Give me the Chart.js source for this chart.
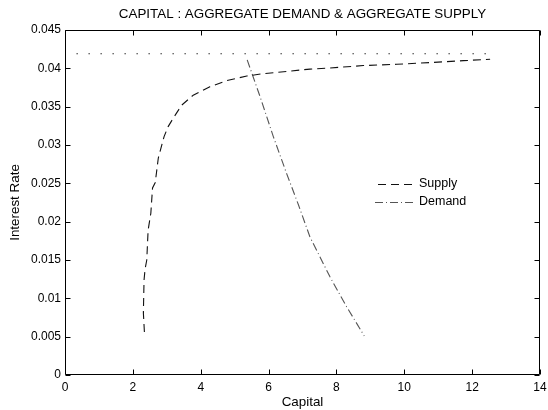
<!DOCTYPE html>
<html>
<head>
<meta charset="utf-8">
<script src="https://cdn.jsdelivr.net/npm/chart.js@4.4.1/dist/chart.umd.min.js"></script>
<style>
  html, body { margin: 0; padding: 0; background: #fff; }
  #wrap { width: 548px; height: 410px; }
</style>
</head>
<body>
<div id="wrap"><canvas id="c" width="548" height="410"></canvas></div>
<script>
// ---- data ----
const chartTitle = 'CAPITAL : AGGREGATE DEMAND & AGGREGATE SUPPLY';
const xAxisTitle = 'Capital';
const yAxisTitle = 'Interest Rate';

const supplyCapital = [2.34, 2.31, 2.33, 2.36, 2.41, 2.45, 2.53, 2.58, 2.66, 2.75, 2.92, 3.04, 3.19, 3.44, 3.78, 4.27, 4.77, 5.36, 5.84, 6.53, 7.22, 7.81, 8.79, 9.78, 10.76, 11.74, 12.53];
const supplyRate    = [0.0056, 0.0081, 0.0124, 0.0138, 0.0150, 0.0189, 0.0211, 0.0244, 0.0251, 0.0283, 0.0311, 0.0324, 0.0335, 0.0352, 0.0365, 0.0376, 0.0384, 0.0390, 0.0393, 0.0396, 0.0399, 0.04005, 0.04036, 0.04053, 0.04075, 0.0410, 0.04118];

const demandCapital = [5.37, 5.75, 6.14, 6.53, 6.88, 7.22, 7.81, 8.30, 8.82];
const demandRate    = [0.0411, 0.0363, 0.0311, 0.0263, 0.0222, 0.0180, 0.0128, 0.0089, 0.0051];

const limitCapital = [0.34, 12.53];
const limitRate    = [0.0419, 0.0419];

const xTickLabels = ['0', '2', '4', '6', '8', '10', '12', '14'];
const yTickLabels = ['0', '0.005', '0.01', '0.015', '0.02', '0.025', '0.03', '0.035', '0.04', '0.045'];

const seriesNames = ['Supply', 'Demand'];

function pts(xs, ys) { return xs.map((x, i) => ({ x: x, y: ys[i] })); }

const FONT = 'Liberation Sans, Arial, Helvetica, sans-serif';

// frame + inward tick marks + legend (MATLAB style)
const framePlugin = {
  id: 'frame',
  afterDraw(chart) {
    const ctx = chart.ctx;
    const a = chart.chartArea;
    const xs = chart.scales.x, ys = chart.scales.y;
    ctx.save();
    ctx.strokeStyle = '#000';
    ctx.lineWidth = 1;
    const L = Math.round(a.left) + 0.5, R = Math.round(a.right) - 0.5;
    const T = Math.round(a.top) + 0.5, B = Math.round(a.bottom) - 0.5;
    ctx.beginPath();
    ctx.rect(L, T, R - L, B - T);
    ctx.stroke();
    const tl = 5;
    ctx.beginPath();
    xs.ticks.forEach(t => {
      const px = Math.round(xs.getPixelForValue(t.value)) + 0.5;
      ctx.moveTo(px, B); ctx.lineTo(px, B - tl);
      ctx.moveTo(px, T); ctx.lineTo(px, T + tl);
    });
    ys.ticks.forEach(t => {
      const py = Math.round(ys.getPixelForValue(t.value)) + 0.5;
      ctx.moveTo(L, py); ctx.lineTo(L + tl, py);
      ctx.moveTo(R, py); ctx.lineTo(R - tl, py);
    });
    ctx.stroke();

    // legend
    const items = [
      { ds: chart.data.datasets[0], x0: 378, x1: 413, y: 184 },
      { ds: chart.data.datasets[1], x0: 375, x1: 415, y: 202 }
    ];
    ctx.font = '12.5px ' + FONT;
    ctx.textBaseline = 'middle';
    ctx.textAlign = 'left';
    items.forEach(it => {
      ctx.beginPath();
      ctx.setLineDash(it.ds.borderDash);
      ctx.strokeStyle = it.ds.borderColor;
      ctx.lineWidth = 1;
      ctx.moveTo(it.x0, it.y + 0.5);
      ctx.lineTo(it.x1, it.y + 0.5);
      ctx.stroke();
      ctx.setLineDash([]);
      ctx.fillStyle = '#000';
      ctx.fillText(it.ds.label, 419, it.y);
    });
    ctx.restore();
  }
};

new Chart(document.getElementById('c'), {
  type: 'line',
  data: {
    datasets: [
      {
        label: seriesNames[0],
        data: pts(supplyCapital, supplyRate),
        borderColor: '#111',
        borderWidth: 1.1,
        borderDash: [8, 5],
        pointRadius: 0,
        fill: false,
        tension: 0
      },
      {
        label: seriesNames[1],
        data: pts(demandCapital, demandRate),
        borderColor: '#555',
        borderWidth: 1.1,
        borderDash: [8, 3, 1, 3],
        pointRadius: 0,
        fill: false,
        tension: 0
      },
      {
        label: 'limit',
        data: pts(limitCapital, limitRate),
        borderColor: '#000',
        borderWidth: 1.2,
        borderDash: [1.2, 10.8],
        pointRadius: 0,
        fill: false,
        tension: 0
      }
    ]
  },
  options: {
    responsive: false,
    animation: false,
    devicePixelRatio: 1,
    layout: { padding: { left: 0, right: 0, top: 0, bottom: 0 } },
    plugins: {
      legend: { display: false },
      tooltip: { enabled: false },
      title: {
        display: true,
        text: chartTitle,
        fullSize: false,
        color: '#000',
        font: { family: FONT, size: 13.4, weight: 'normal' },
        padding: { top: 6, bottom: 7.92 }
      }
    },
    scales: {
      x: {
        type: 'linear',
        min: 0, max: 14,
        grid: { display: false, drawTicks: false },
        border: { display: false },
        ticks: {
          stepSize: 2,
          padding: 5,
          color: '#000',
          maxRotation: 0,
          font: { family: FONT, size: 12 },
          callback: (v, i) => xTickLabels[i]
        },
        title: {
          display: true,
          text: xAxisTitle,
          color: '#000',
          font: { family: FONT, size: 13.4 },
          padding: { top: 0, bottom: 0 }
        },
        afterFit(s) { s.height = 35; s.paddingRight = 8; s.paddingLeft = 0; }
      },
      y: {
        type: 'linear',
        min: 0, max: 0.045,
        grid: { display: false, drawTicks: false },
        border: { display: false },
        ticks: {
          stepSize: 0.005,
          padding: 4,
          color: '#000',
          font: { family: FONT, size: 12 },
          callback: (v, i) => yTickLabels[i]
        },
        title: {
          display: true,
          text: yAxisTitle,
          color: '#000',
          font: { family: FONT, size: 13.4 },
          padding: { top: 7, bottom: 4 }
        },
        afterFit(s) { s.width = 65; s.paddingTop = 0; s.paddingBottom = 0; }
      }
    }
  },
  plugins: [framePlugin]
});
</script>
</body>
</html>
